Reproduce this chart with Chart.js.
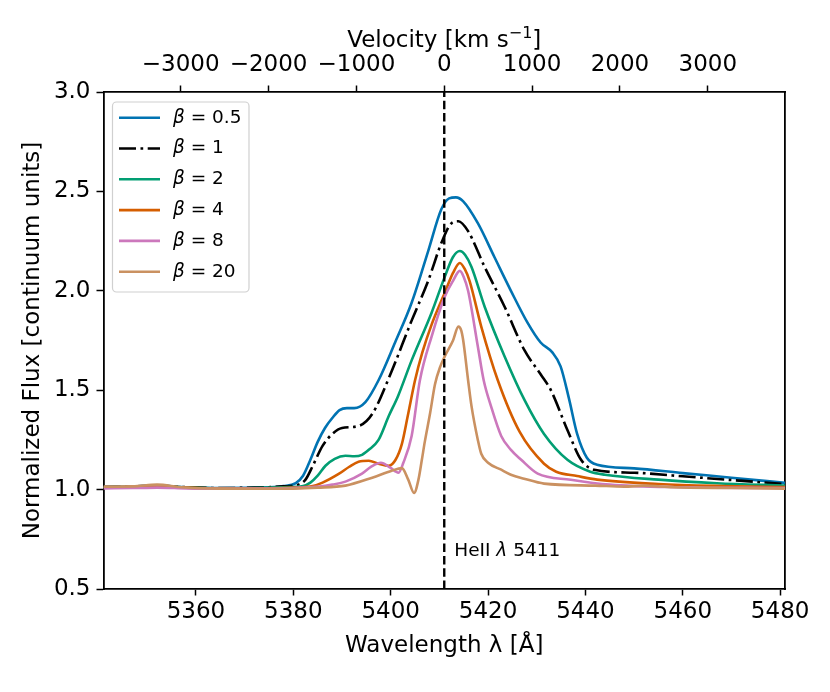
<!DOCTYPE html>
<html>
<head>
<meta charset="utf-8">
<script src="https://cdn.jsdelivr.net/npm/chart.js@4.4.1/dist/chart.umd.min.js"></script>
<style>
  html, body { margin: 0; padding: 0; background: #fff; }
  #wrap { width: 830px; height: 692px; }
</style>
</head>
<body>
<div id="wrap"><canvas id="grafico"></canvas></div>
<script>
const C_KMS = 299792.458;
const lineCentre = 5411;
const wlMin = 5341;
const wlMax = 5481;
const wlTicks = [5360, 5380, 5400, 5420, 5440, 5460, 5480];
const velTicks = [-3000, -2000, -1000, 0, 1000, 2000, 3000];
const fluxTicks = [0.5, 1.0, 1.5, 2.0, 2.5, 3.0];

const betaLabels = ['0.5', '1', '2', '4', '8', '20'];
const betaColors = ['#0173B2', '#000000', '#029E73', '#D55E00', '#CC78BC', '#CA9161'];

// beta = 0.5
const wlBeta05 = [5341, 5347, 5352, 5358, 5365, 5372, 5378, 5380.5, 5382, 5383.5, 5385, 5386.5, 5388, 5389.5, 5391, 5392.5, 5394.8, 5397.5, 5400.9, 5404.3, 5407.7, 5410.4, 5412, 5413.4, 5414.9, 5417.9, 5421.3, 5424.7, 5428.1, 5430.8, 5433.2, 5434.9, 5436.6, 5438.3, 5440.3, 5442.4, 5450, 5460, 5470, 5481];
const fluxBeta05 = [1.013, 1.015, 1.02, 1.012, 1.008, 1.01, 1.018, 1.033, 1.07, 1.15, 1.24, 1.31, 1.36, 1.40, 1.41, 1.41, 1.44, 1.55, 1.74, 1.94, 2.20, 2.41, 2.465, 2.47, 2.45, 2.34, 2.17, 2.00, 1.84, 1.74, 1.69, 1.62, 1.46, 1.28, 1.16, 1.125, 1.107, 1.083, 1.06, 1.034];

// beta = 1
const wlBeta1 = [5341, 5347, 5352, 5358, 5365, 5372, 5378, 5381, 5382.5, 5384, 5386, 5388, 5390, 5393.4, 5396.2, 5399.6, 5404.3, 5407.7, 5410.4, 5412.5, 5413.9, 5415.9, 5419.3, 5423.4, 5427.5, 5430.8, 5432.9, 5436.3, 5439.1, 5441.8, 5450, 5460, 5470, 5481];
const fluxBeta1 = [1.013, 1.015, 1.02, 1.012, 1.008, 1.01, 1.016, 1.025, 1.05, 1.12, 1.22, 1.28, 1.31, 1.32, 1.38, 1.56, 1.85, 2.05, 2.24, 2.34, 2.35, 2.30, 2.12, 1.92, 1.70, 1.58, 1.50, 1.30, 1.15, 1.10, 1.085, 1.067, 1.048, 1.028];

// beta = 2
const wlBeta2 = [5341, 5347, 5352, 5358, 5365, 5372, 5378, 5382, 5383.5, 5385, 5386.6, 5388.5, 5390.7, 5392.5, 5394.1, 5395.5, 5397.5, 5399.6, 5401.5, 5404.3, 5408.4, 5411.1, 5412.8, 5414.2, 5415.3, 5416.6, 5419.3, 5423.4, 5427.5, 5431.5, 5436.3, 5441, 5444, 5455, 5467, 5481];
const fluxBeta2 = [1.012, 1.014, 1.018, 1.01, 1.006, 1.008, 1.012, 1.018, 1.035, 1.07, 1.12, 1.155, 1.17, 1.168, 1.175, 1.20, 1.25, 1.37, 1.47, 1.65, 1.89, 2.07, 2.17, 2.20, 2.18, 2.12, 1.92, 1.67, 1.45, 1.28, 1.15, 1.09, 1.075, 1.05, 1.032, 1.02];

// beta = 4
const wlBeta4 = [5341, 5347, 5352, 5358, 5365, 5372, 5380, 5384, 5386, 5389.4, 5391.5, 5393.4, 5395.5, 5397.5, 5399.6, 5401, 5402.3, 5403.5, 5405, 5406.5, 5408.4, 5411.1, 5412.8, 5414.2, 5415.2, 5416.2, 5418.6, 5422, 5426.5, 5431.5, 5434, 5438.3, 5442.4, 5455, 5468, 5481];
const fluxBeta4 = [1.012, 1.013, 1.017, 1.01, 1.005, 1.006, 1.01, 1.018, 1.035, 1.08, 1.115, 1.14, 1.145, 1.13, 1.12, 1.15, 1.23, 1.37, 1.55, 1.69, 1.83, 1.99, 2.09, 2.14, 2.11, 2.05, 1.82, 1.55, 1.29, 1.13, 1.09, 1.068, 1.05, 1.028, 1.018, 1.013];

// beta = 8
const wlBeta8 = [5341, 5347, 5352, 5358, 5365, 5372, 5380, 5385.3, 5388, 5390.7, 5394.1, 5396, 5398, 5399.9, 5401.6, 5402.6, 5404.3, 5406, 5408.4, 5411.1, 5412.8, 5414.2, 5415, 5415.9, 5417.9, 5419.1, 5420.6, 5422.7, 5424.7, 5426.8, 5430.2, 5437, 5445, 5460, 5481];
const fluxBeta8 = [1.006, 1.008, 1.01, 1.006, 1.004, 1.005, 1.008, 1.015, 1.025, 1.04, 1.08, 1.115, 1.135, 1.11, 1.085, 1.135, 1.27, 1.55, 1.77, 1.97, 2.05, 2.10, 2.07, 2.00, 1.72, 1.55, 1.42, 1.27, 1.20, 1.15, 1.08, 1.05, 1.025, 1.012, 1.008];

// beta = 20
const wlBeta20 = [5341, 5347, 5352, 5357, 5365, 5375, 5385, 5390.7, 5396.2, 5400.2, 5402.3, 5403.6, 5404.8, 5405.7, 5406.4, 5407, 5408.1, 5409.1, 5410.2, 5411.1, 5412.8, 5413.9, 5414.5, 5414.9, 5415.9, 5416.6, 5417.9, 5418.6, 5420, 5422.7, 5424.7, 5427.4, 5431.5, 5442, 5448, 5452, 5458, 5470, 5481];
const fluxBeta20 = [1.015, 1.016, 1.025, 1.012, 1.005, 1.004, 1.01, 1.02, 1.06, 1.095, 1.108, 1.05, 0.983, 1.05, 1.15, 1.24, 1.385, 1.53, 1.62, 1.67, 1.75, 1.82, 1.80, 1.75, 1.55, 1.42, 1.25, 1.18, 1.135, 1.10, 1.075, 1.055, 1.03, 1.02, 1.015, 1.02, 1.012, 1.008, 1.005];

const allWl = [wlBeta05, wlBeta1, wlBeta2, wlBeta4, wlBeta8, wlBeta20];
const allFlux = [fluxBeta05, fluxBeta1, fluxBeta2, fluxBeta4, fluxBeta8, fluxBeta20];

const velMin = (wlMin - lineCentre) / lineCentre * C_KMS;
const velMax = (wlMax - lineCentre) / lineCentre * C_KMS;

function fmtMinus(v) {
  return v < 0 ? '\u2212' + Math.abs(v) : String(v);
}

Chart.defaults.font.family = '"DejaVu Sans", sans-serif';
Chart.defaults.font.size = 23;
Chart.defaults.color = '#000';

const datasets = betaLabels.map((b, i) => ({
  label: 'β = ' + b,
  data: allWl[i].map((x, k) => ({ x: x, y: allFlux[i][k] })),
  borderColor: betaColors[i],
  borderWidth: 2.6,
  borderDash: i === 1 ? [17, 4.5, 2.7, 4.5] : [],
  pointRadius: 0,
  fill: false,
  cubicInterpolationMode: 'monotone',
  order: 10 - i
}));

datasets.push({
  label: 'centre',
  data: [{ x: lineCentre, y: fluxTicks[0] }, { x: lineCentre, y: fluxTicks[fluxTicks.length - 1] }],
  borderColor: '#000',
  borderWidth: 2.4,
  borderDash: [8.5, 3.8],
  pointRadius: 0,
  fill: false,
  order: 0
});

// draws pieces of text one after another: [text, italic, size, raise]
function drawPieces(ctx, pieces, x, y, align) {
  let total = 0;
  pieces.forEach(p => {
    ctx.font = (p[1] ? 'italic ' : '') + p[2] + 'px "DejaVu Sans"';
    total += ctx.measureText(p[0]).width;
  });
  let cx = align === 'center' ? x - total / 2 : x;
  pieces.forEach(p => {
    ctx.font = (p[1] ? 'italic ' : '') + p[2] + 'px "DejaVu Sans"';
    ctx.fillText(p[0], cx, y - p[3]);
    cx += ctx.measureText(p[0]).width;
  });
}

const legendaInterna = {
  id: 'legendaInterna',
  afterDraw(chart) {
    const ctx = chart.ctx;
    const area = chart.chartArea;
    ctx.save();
    // frame
    const bx = 112.5, by = 102, bw = 136.5, bh = 190, r = 4;
    ctx.beginPath();
    ctx.moveTo(bx + r, by);
    ctx.arcTo(bx + bw, by, bx + bw, by + bh, r);
    ctx.arcTo(bx + bw, by + bh, bx, by + bh, r);
    ctx.arcTo(bx, by + bh, bx, by, r);
    ctx.arcTo(bx, by, bx + bw, by, r);
    ctx.closePath();
    ctx.fillStyle = 'rgba(255,255,255,0.8)';
    ctx.fill();
    ctx.strokeStyle = '#d0d0d0';
    ctx.lineWidth = 1.2;
    ctx.stroke();

    ctx.fillStyle = '#000';
    ctx.textAlign = 'left';
    for (let i = 0; i < betaLabels.length; i++) {
      const ds = chart.data.datasets[i];
      const y = 117.7 + i * 30.8;
      ctx.beginPath();
      ctx.setLineDash(ds.borderDash);
      ctx.strokeStyle = ds.borderColor;
      ctx.lineWidth = ds.borderWidth;
      ctx.moveTo(119, y);
      ctx.lineTo(160, y);
      ctx.stroke();
      ctx.setLineDash([]);

      ctx.textBaseline = 'middle';
      drawPieces(ctx, [['β', true, 18.5, 0], [' = ' + betaLabels[i], false, 18.5, 0]], 173, y, 'left');
    }

    // line annotation
    const xs = chart.scales.x, ys = chart.scales.y;
    drawPieces(ctx, [['HeII ', false, 18.5, 0], ['λ', true, 18.5, 0], [' 5411', false, 18.5, 0]],
      xs.getPixelForValue(lineCentre) + 10, ys.getPixelForValue(0.69), 'left');

    // top axis title with superscript
    ctx.textBaseline = 'alphabetic';
    drawPieces(ctx, [['Velocity [km s', false, 23, 0], ['\u22121', false, 16, 9], [']', false, 23, 0]],
      (area.left + area.right) / 2, 46.5, 'center');
    ctx.restore();
  }
};

const tickGrid = { drawOnChartArea: false, drawTicks: true, tickLength: 6.5, tickColor: '#000', tickWidth: 1.5 };
const axisBorder = { display: true, color: '#000', width: 1.8 };

const ctx = document.getElementById('grafico').getContext('2d');
const chart = new Chart(ctx, {
  type: 'line',
  data: { datasets: datasets },
  plugins: [legendaInterna],
  options: {
    responsive: true,
    maintainAspectRatio: false,
    animation: false,
    layout: { padding: 0 },
    plugins: {
      legend: { display: false },
      tooltip: { enabled: false }
    },
    scales: {
      x: {
        type: 'linear',
        position: 'bottom',
        min: wlMin,
        max: wlMax,
        afterBuildTicks: (s) => { s.ticks = wlTicks.map(v => ({ value: v })); },
        afterFit: (s) => { s.height = 103; },
        ticks: { padding: 3, maxRotation: 0, autoSkip: false, callback: (v) => String(v) },
        grid: tickGrid,
        border: axisBorder,
        title: { display: true, text: 'Wavelength λ [Å]', padding: { top: 0, bottom: 32 } }
      },
      xTop: {
        type: 'linear',
        position: 'top',
        min: velMin,
        max: velMax,
        afterBuildTicks: (s) => { s.ticks = velTicks.map(v => ({ value: v })); },
        afterFit: (s) => { s.height = 92; },
        ticks: { padding: 7, maxRotation: 0, autoSkip: false, callback: (v) => fmtMinus(v) },
        grid: tickGrid,
        border: axisBorder,
        title: { display: false }
      },
      y: {
        type: 'linear',
        position: 'left',
        min: fluxTicks[0],
        max: fluxTicks[fluxTicks.length - 1],
        afterBuildTicks: (s) => { s.ticks = fluxTicks.map(v => ({ value: v })); },
        afterFit: (s) => { s.width = 103.5; },
        ticks: { padding: 6, callback: (v) => v.toFixed(1) },
        grid: { drawOnChartArea: false, drawTicks: true, tickLength: 7, tickColor: '#000', tickWidth: 1.5 },
        border: axisBorder,
        title: { display: true, text: 'Normalized Flux [continuum units]', padding: { top: 19, bottom: 0 } }
      },
      yRight: {
        type: 'linear',
        position: 'right',
        min: fluxTicks[0],
        max: fluxTicks[fluxTicks.length - 1],
        afterFit: (s) => { s.width = 45; },
        ticks: { display: false },
        grid: { display: false, drawTicks: false },
        border: axisBorder
      }
    }
  }
});
</script>
</body>
</html>
